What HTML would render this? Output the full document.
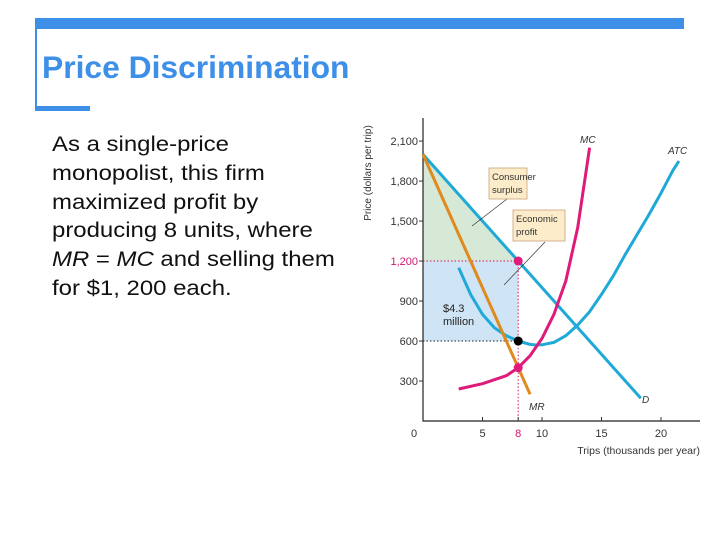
<!DOCTYPE html>
<html><head><meta charset="utf-8"><style>
body{margin:0;width:720px;height:540px;background:#fff;overflow:hidden;position:relative;font-family:"Liberation Sans",sans-serif}
.b{position:absolute;background:#3d8fe8}
#title{position:absolute;left:42px;top:49px;font-size:31.8px;font-weight:bold;color:#3d8fe8;white-space:nowrap}
#body{position:absolute;left:52px;top:131px;font-size:21px;line-height:28.8px;color:#111;white-space:nowrap;transform:scaleX(1.14);transform-origin:0 0}
svg{position:absolute;left:0;top:0}
</style></head><body>
<div class="b" style="left:35px;top:18px;width:649px;height:11px"></div>
<div class="b" style="left:35px;top:18px;width:2px;height:92px"></div>
<div class="b" style="left:35px;top:106px;width:55px;height:5px"></div>
<div id="title">Price Discrimination</div>
<div id="body">As a single-price<br>monopolist, this firm<br>maximized profit by<br>producing 8 units, where<br><i>MR</i> = <i>MC</i> and selling them<br>for $1, 200 each.</div>
<svg id="chart" width="720" height="540"></svg>
<script>
const yTicks=[300,600,900,1200,1500,1800,2100];
const yTickLabels=["300","600","900","1,200","1,500","1,800","2,100"];
const xTicks=[0,5,8,10,15,20];
const xTickLabels=["0","5","8","10","15","20"];
const demandQ=[0,18.3];
const demandP=[2000,170];
const mrQ=[0,9];
const mrP=[2000,200];
const mcQ=[3,5,7,8,9,10,11,12,13,14];
const mcP=[240,280,340,400,490,620,800,1050,1450,2050];
const atcQ=[3,4,5,6,7,8,9,9.5,10,11,12,13,14,15,16,17,18,19,20,21,21.5];
const atcP=[1150,950,800,700,640,600,575,570,572,590,640,720,820,950,1090,1250,1400,1550,1710,1880,1950];
const optQ=8, price=1200, atcAtQ=600, mcAtQ=400;

const X=q=>423+11.9*q, Y=p=>421-0.1333*p;
const svg=document.getElementById('chart');const NS='http://www.w3.org/2000/svg';
function el(t,a,txt){const e=document.createElementNS(NS,t);for(const k in a)e.setAttribute(k,a[k]);if(txt!==undefined)e.textContent=txt;svg.appendChild(e);return e;}
function pts(qs,ps){return qs.map((q,i)=>X(q).toFixed(1)+','+Y(ps[i]).toFixed(1)).join(' ');}
let e=el('polygon',{points:pts([0,optQ,0],[demandP[0],price,price]),fill:'#d6e9d6'});

e=el('rect',{x:X(0),y:Y(price),width:X(optQ)-X(0),height:Y(atcAtQ)-Y(price),fill:'#cfe4f5'});

e=el('polyline',{points:pts([0,optQ,optQ],[price,price,0]),fill:'none',stroke:'#d0186f','stroke-width':1,'stroke-dasharray':'1.5,2'});

e=el('line',{x1:X(0),y1:Y(atcAtQ),x2:X(optQ),y2:Y(atcAtQ),stroke:'#222','stroke-width':1,'stroke-dasharray':'1.5,2'});

e=el('polyline',{points:`${X(0)},118 ${X(0)},${Y(0)} 700,${Y(0)}`,fill:'none',stroke:'#222','stroke-width':1.2});

yTicks.forEach((v,i)=>{
 const c=v===price?'#d0186f':'#333';
 let t=el('line',{x1:X(0)-4,x2:X(0),y1:Y(v),y2:Y(v),stroke:'#333'});
 
 t=el('text',{x:X(0)-5,y:Y(v)+4,'text-anchor':'end','font-size':11,fill:c},yTickLabels[i]);
 
});
xTicks.forEach((v,i)=>{
 const c=v===optQ?'#d0186f':'#333';
 if(v>0){let t=el('line',{x1:X(v),x2:X(v),y1:Y(0),y2:Y(0)-4,stroke:'#333'});
 }
 let t=el('text',{x:X(v)-(v===0?9:0),y:437,'text-anchor':'middle','font-size':11,fill:c},xTickLabels[i]);
 
});
e=el('text',{x:0,y:0,'font-size':10,fill:'#333','text-anchor':'middle',transform:'translate(371,173) rotate(-90)'},'Price (dollars per trip)');

e=el('text',{x:700,y:454,'font-size':10.5,fill:'#333','text-anchor':'end'},'Trips (thousands per year)');

e=el('polyline',{points:pts(atcQ,atcP),fill:'none',stroke:'#1fa9d8','stroke-width':3,'stroke-linejoin':'round'});

e=el('polyline',{points:pts(demandQ,demandP),fill:'none',stroke:'#1fa9d8','stroke-width':3});

e=el('polyline',{points:pts(mrQ,mrP),fill:'none',stroke:'#e08a1e','stroke-width':3});

e=el('polyline',{points:pts(mcQ,mcP),fill:'none',stroke:'#de1a7a','stroke-width':3,'stroke-linejoin':'round'});

e=el('circle',{cx:X(optQ),cy:Y(price),r:4.5,fill:'#e01b7c'});
e=el('circle',{cx:X(optQ),cy:Y(atcAtQ),r:4.5,fill:'#000'});
e=el('circle',{cx:X(optQ),cy:Y(mcAtQ),r:4.5,fill:'#e01b7c'});
[['MC',580,143,'mc-label'],['ATC',668,154,'atc-label'],['MR',529,410,'mr-label'],['D',642,403,'demand-label']].forEach(a=>{
 const t=el('text',{x:a[1],y:a[2],'font-size':10,'font-style':'italic',fill:'#333'},a[0]);
 });
e=el('text',{x:443,y:312,'font-size':11,fill:'#222'},'$4.3');
e=el('text',{x:443,y:325,'font-size':11,fill:'#222'},'million');
e=el('line',{x1:507,y1:199,x2:472,y2:226,stroke:'#333','stroke-width':0.7});
e=el('line',{x1:545,y1:242,x2:504,y2:285,stroke:'#333','stroke-width':0.7});
e=el('rect',{x:489,y:168,width:38,height:31,fill:'#fcecc9',stroke:'#c9a27a','stroke-width':0.8});
e=el('text',{x:492,y:180,'font-size':9.5,fill:'#333'},'Consumer');
e=el('text',{x:492,y:193,'font-size':9.5,fill:'#333'},'surplus');
e=el('rect',{x:513,y:210,width:52,height:31,fill:'#fcecc9',stroke:'#c9a27a','stroke-width':0.8});
e=el('text',{x:516,y:222,'font-size':9.5,fill:'#333'},'Economic');
e=el('text',{x:516,y:235,'font-size':9.5,fill:'#333'},'profit');
</script>
</body></html>
